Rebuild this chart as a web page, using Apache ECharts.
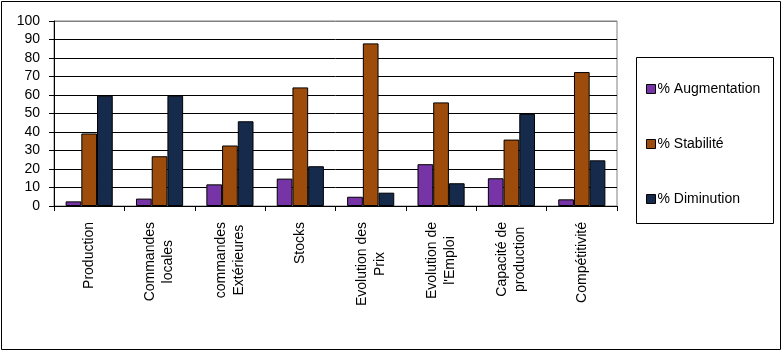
<!DOCTYPE html>
<html>
<head>
<meta charset="utf-8">
<script src="https://cdn.jsdelivr.net/npm/echarts@6/dist/echarts.min.js"></script>
<style>
  html, body { margin: 0; padding: 0; background: #fff; }
  #chart { width: 783px; height: 352px; }
</style>
</head>
<body>
<div id="chart"></div>
<script>
const categories = ['Production', 'Commandes\nlocales', 'commandes\nExtérieures', 'Stocks',
  'Evolution des\nPrix', 'Evolution de\nl\'Emploi', 'Capacité de\nproduction', 'Compétitivité'];
const seriesNames = ['% Augmentation', '% Stabilité', '% Diminution'];
const augmentation = [2.5, 4, 11.7, 14.8, 5, 22.6, 15, 3.6];
const stabilite = [39.2, 26.9, 32.7, 64.1, 87.9, 56, 35.9, 72.4];
const diminution = [59.6, 59.6, 45.8, 21.5, 7.2, 12.3, 49.8, 24.7];
const colors = ['#7634a6', '#9e4c0c', '#162a4c'];

const font = '"Liberation Sans", Arial, sans-serif';

// lignes de la grille: noires, la derniere (100) grise comme le cadre
const splitColors = ['#000', '#000', '#000', '#000', '#000', '#000', '#000', '#000', '#000', '#000', '#808080'];

const chart = echarts.init(document.getElementById('chart'));

const mkBar = (name, data, i) => ({
  name,
  type: 'bar',
  data,
  barGap: '0%',
  barCategoryGap: '33%',
  itemStyle: { color: colors[i], borderColor: '#000', borderWidth: 1 }
});

const option = {
  animation: false,
  grid: { left: 54, right: 166, top: 21, bottom: 146, show: true, borderColor: '#808080', borderWidth: 1 },
  xAxis: {
    type: 'category',
    data: categories,
    axisLine: { lineStyle: { color: '#000', width: 1 } },
    axisTick: { show: true, interval: 0, length: 5, lineStyle: { color: '#000' } },
    axisLabel: {
      interval: 0,
      rotate: 90,
      margin: 16,
      color: '#000',
      fontFamily: font,
      fontSize: 14,
      formatter: v => v.split('\n').map(s => '{c|' + s + '}').join('\n'),
      rich: {
        c: { align: 'center', fontFamily: font, fontSize: 14, lineHeight: 18, color: '#000' }
      }
    }
  },
  yAxis: {
    type: 'value',
    min: 0,
    max: 100,
    interval: 10,
    axisLine: { show: true, lineStyle: { color: '#000', width: 1 } },
    axisTick: { show: true, length: 5, lineStyle: { color: '#000' } },
    axisLabel: { color: '#000', fontFamily: font, fontSize: 14, margin: 14 },
    splitLine: { show: true, lineStyle: { color: splitColors, width: 1 } }
  },
  legend: {
    orient: 'vertical',
    left: 641,
    top: 77,
    itemGap: 41,
    itemWidth: 9,
    itemHeight: 9,
    icon: 'rect',
    itemStyle: { borderColor: '#000', borderWidth: 1 },
    textStyle: { color: '#000', fontFamily: font, fontSize: 14, padding: [0, 0, 0, -3] },
    data: seriesNames
  },
  graphic: [
    {
      type: 'rect',
      shape: { x: 1.5, y: 1.5, width: 779, height: 348 },
      style: { fill: 'none', stroke: '#000', lineWidth: 1 },
      silent: true
    },
    {
      type: 'rect',
      shape: { x: 636.5, y: 57.5, width: 137, height: 166 },
      style: { fill: 'none', stroke: '#000', lineWidth: 1 },
      silent: true
    }
  ],
  series: [
    mkBar(seriesNames[0], augmentation, 0),
    mkBar(seriesNames[1], stabilite, 1),
    mkBar(seriesNames[2], diminution, 2)
  ]
};

chart.setOption(option);
</script>
</body>
</html>
